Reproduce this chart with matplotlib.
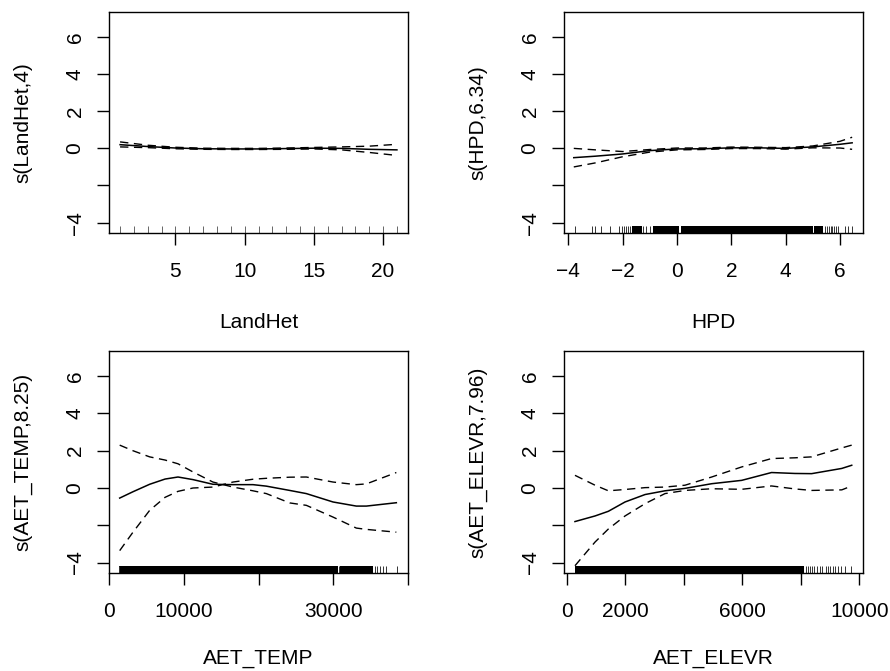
import numpy as np
import matplotlib
matplotlib.use("Agg")
import matplotlib.pyplot as plt

plt.rcParams['font.family'] = ['Liberation Sans', 'DejaVu Sans']
plt.rcParams['font.size'] = 15

# ---- LandHet ----
land_x = [1, 3, 5, 7, 9, 11, 13, 15, 17, 19, 21]
land_fit = [0.2, 0.1, 0.02, -0.02, -0.03, -0.03, -0.01, 0.01, 0.0, -0.05, -0.08]
land_up = [0.35, 0.17, 0.06, 0.01, 0.0, 0.0, 0.02, 0.05, 0.08, 0.12, 0.22]
land_lo = [0.08, 0.04, -0.02, -0.05, -0.06, -0.06, -0.05, -0.03, -0.08, -0.22, -0.38]
land_rug = list(range(1, 22))
land_dense = []

# ---- HPD ----
hpd_x = [-3.8, -3, -2, -1, 0, 1, 2, 3, 4, 5, 6, 6.45]
hpd_fit = [-0.5, -0.42, -0.3, -0.12, -0.03, -0.02, 0.03, 0.03, 0.0, 0.08, 0.22, 0.3]
hpd_up = [0.0, -0.08, -0.17, -0.06, 0.02, 0.02, 0.07, 0.06, 0.04, 0.13, 0.38, 0.6]
hpd_lo = [-1.0, -0.78, -0.45, -0.2, -0.08, -0.06, -0.01, -0.01, -0.04, 0.03, 0.02, -0.05]
hpd_rug = [-3.75, -3.14, -3.02, -2.80, -2.47, -2.12, -2.03, -1.95, -1.88, -1.79, -1.73,
           -1.24, -1.14, -0.99, 5.45, 5.51, 5.58, 5.66, 5.72, 5.78, 5.85, 5.94,
           6.18, 6.31, 6.45]
hpd_dense = [(-1.67, -1.30), (-0.87, 0.09), (0.13, 5.0), (5.06, 5.38)]

# ---- AET_TEMP ----
temp_x = [1430, 3210, 5440, 7500, 9230, 11240, 13900, 16590, 19260, 21050,
          24170, 26400, 29970, 33090, 34430, 38440]
temp_fit = [-0.54, -0.2, 0.2, 0.48, 0.59, 0.45, 0.2, 0.18, 0.18, 0.1,
            -0.13, -0.3, -0.75, -0.97, -0.97, -0.79]
temp_up = [2.3, 2.0, 1.67, 1.5, 1.3, 0.86, 0.32, 0.05, -0.15, -0.3,
           -0.8, -0.93, -1.56, -2.15, -2.22, -2.37]
temp_lo = [-3.36, -2.37, -1.2, -0.5, -0.18, 0.0, 0.05, 0.32, 0.47, 0.52,
           0.58, 0.59, 0.32, 0.18, 0.22, 0.83]
temp_rug = [1300, 30790, 35570, 35880, 36240, 36600, 37040, 38470]
temp_dense = [(1400, 30700), (30900, 35340)]

# ---- AET_ELEVR ----
elev_x = [285, 970, 1425, 1995, 2680, 3360, 4045, 4955, 5980, 7000, 7800,
          8370, 9400, 9740]
elev_fit = [-1.8, -1.5, -1.25, -0.75, -0.35, -0.15, -0.02, 0.23, 0.41, 0.83,
            0.78, 0.77, 1.05, 1.22]
elev_up = [0.68, 0.15, -0.15, -0.08, 0.02, 0.05, 0.15, 0.59, 1.13, 1.58,
           1.62, 1.67, 2.15, 2.3]
elev_lo = [-4.17, -2.9, -2.2, -1.5, -0.84, -0.3, -0.13, -0.04, -0.07, 0.11,
           -0.05, -0.13, -0.1, 0.11]
elev_rug = [8170, 8236, 8315, 8395, 8462, 8544, 8657, 8715, 8850, 8942,
            9000, 9090, 9170, 9262, 9375, 9510, 9716]
elev_dense = [(284, 8120)]

ytick_vals = [-4, -2, 0, 2, 4, 6]
ytick_labels = ['\u22124', '', '0', '2', '4', '6']

panels = [
    dict(x=land_x, fit=land_fit, up=land_up, lo=land_lo, rug=land_rug, dense=land_dense,
         xlim=(0.2, 21.8), xticks=[5, 10, 15, 20], xlabels=['5', '10', '15', '20'],
         xname='LandHet', yname='s(LandHet,4)', rect=(109, 12, 408, 233), rugc='#666666'),
    dict(x=hpd_x, fit=hpd_fit, up=hpd_up, lo=hpd_lo, rug=hpd_rug, dense=hpd_dense,
         xlim=(-4.16, 6.85), xticks=[-4, -2, 0, 2, 4, 6],
         xlabels=['\u22124', '\u22122', '0', '2', '4', '6'],
         xname='HPD', yname='s(HPD,6.34)', rect=(564, 12, 863, 233), rugc='#333333'),
    dict(x=temp_x, fit=temp_fit, up=temp_up, lo=temp_lo, rug=temp_rug, dense=temp_dense,
         xlim=(0, 40000), xticks=[0, 10000, 20000, 30000, 40000],
         xlabels=['0', '10000', '', '30000', ''],
         xname='AET_TEMP', yname='s(AET_TEMP,8.25)', rect=(109, 351, 408, 573), rugc='#333333'),
    dict(x=elev_x, fit=elev_fit, up=elev_up, lo=elev_lo, rug=elev_rug, dense=elev_dense,
         xlim=(-90, 10125), xticks=[0, 2000, 4000, 6000, 8000, 10000],
         xlabels=['0', '2000', '', '6000', '', '10000'],
         xname='AET_ELEVR', yname='s(AET_ELEVR,7.96)', rect=(564, 351, 863, 573), rugc='#333333'),
]

W, H = 890, 671
fig = plt.figure(figsize=(W / 100, H / 100), dpi=100)

for p in panels:
    x0, y0, x1, y1 = p['rect']
    ax = fig.add_axes([x0 / W, 1 - y1 / H, (x1 - x0) / W, (y1 - y0) / H])
    ax.plot(p['x'], p['fit'], color='black', lw=1.1)
    ax.plot(p['x'], p['up'], color='black', lw=1.0, dashes=(6, 4))
    ax.plot(p['x'], p['lo'], color='black', lw=1.0, dashes=(6, 4))
    trans = ax.get_xaxis_transform()
    ax.vlines(p['rug'], 0, 0.03, transform=trans, color=p['rugc'], lw=0.7)
    for a, b in p['dense']:
        ax.axvspan(a, b, ymin=0, ymax=0.03, color='black', lw=0)
    ax.set_xlim(*p['xlim'])
    ax.set_ylim(-4.56, 7.35)
    ax.set_xticks(p['xticks'])
    ax.set_xticklabels(p['xlabels'])
    ax.set_yticks(ytick_vals)
    ax.set_yticklabels(ytick_labels, rotation=90, va='center')
    ax.tick_params(direction='out', length=8.6, width=1.0, pad=9, labelsize=15)
    ax.tick_params(axis='x', pad=12)
    for s in ax.spines.values():
        s.set_linewidth(1.0)
    ax.set_xlabel(p['xname'], fontsize=15, va='center')
    ax.set_ylabel(p['yname'], fontsize=15)
    hpx = y1 - y0
    off = 90 if y0 < 100 else 85
    ax.xaxis.set_label_coords(0.5, -off / hpx)
    ax.yaxis.set_label_coords(-77 / (x1 - x0), 0.5)

fig.savefig('out.png', dpi=100)
